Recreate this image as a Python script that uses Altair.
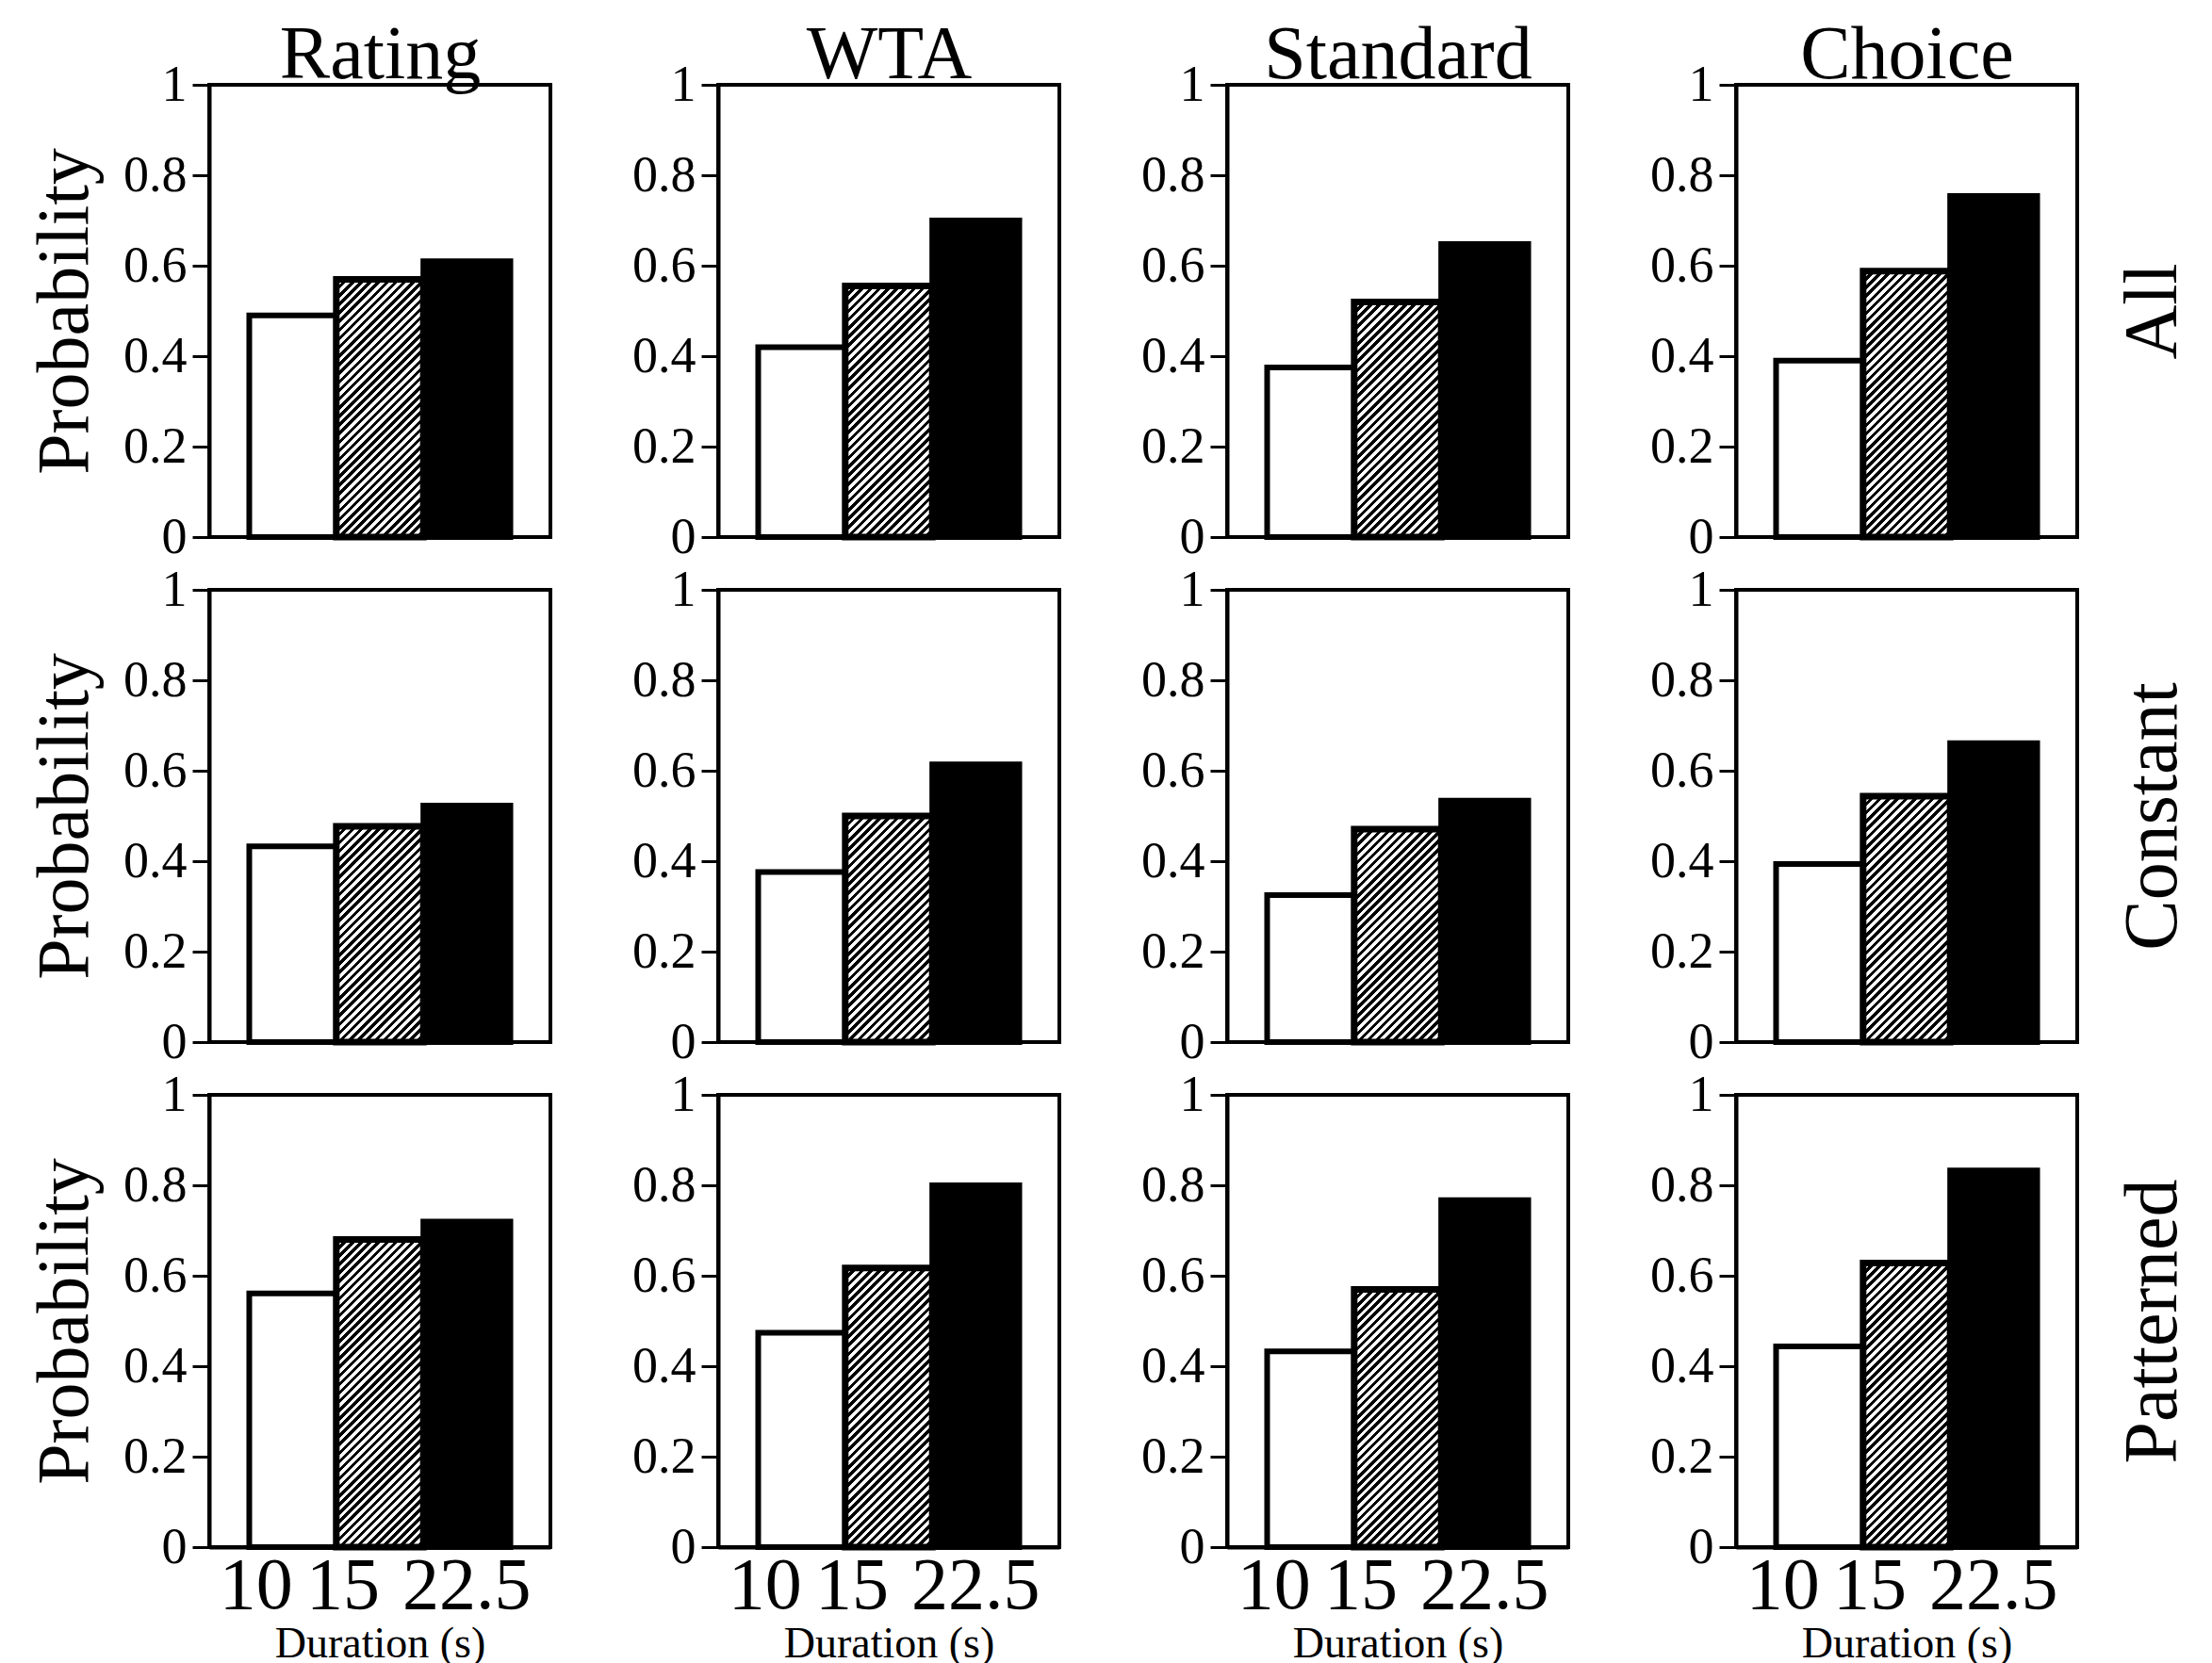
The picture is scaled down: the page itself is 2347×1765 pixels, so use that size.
import math
import altair as alt
import pandas as pd

# ---------------- data ----------------
methods = ["Rating", "WTA", "Standard", "Choice"]
conditions = ["All", "Constant", "Patterned"]
durations = ["10", "15", "22.5"]

# probability per method (Rating, WTA, Standard, Choice) for durations 10, 15, 22.5
prob_all = [[0.49, 0.57, 0.61], [0.42, 0.555, 0.70], [0.375, 0.52, 0.648], [0.39, 0.588, 0.754]]
prob_constant = [[0.433, 0.477, 0.523], [0.376, 0.50, 0.614], [0.325, 0.471, 0.534], [0.394, 0.544, 0.661]]
prob_patterned = [[0.561, 0.68, 0.72], [0.474, 0.617, 0.80], [0.433, 0.57, 0.767], [0.444, 0.628, 0.833]]
rows = [prob_all, prob_constant, prob_patterned]

y_ticks = [0, 0.2, 0.4, 0.6, 0.8, 1]

# ---------------- style ----------------
PW, PH = 362, 480
PAD_OUTER = 0.46
FONT = "Liberation Serif"


def hatch_gradient(value):
    """Diagonal '/' stripes built as a bounding-box linear gradient."""
    w = PW / (3 + 2 * PAD_OUTER)
    h = max(value * PH, 1.0)
    s = (w + h) / (w * w + h * h)
    x2, y2 = w * s, h * s
    period = 6.5
    n = max(int(round((w + h) / math.sqrt(2) / period)), 1)
    frac = 0.5
    stops = []
    for i in range(n):
        t0 = i / n
        t1 = (i + frac) / n
        t2 = (i + 1) / n
        stops += [
            {"offset": t0, "color": "black"},
            {"offset": t1, "color": "black"},
            {"offset": t1, "color": "white"},
            {"offset": t2, "color": "white"},
        ]
    return {"gradient": "linear", "x1": 0, "y1": 0, "x2": x2, "y2": y2, "stops": stops}


def panel(ci, ri):
    vals = rows[ri][ci]
    df = pd.DataFrame({"Duration": durations, "Probability": vals})
    top, bottom, left, right = ri == 0, ri == 2, ci == 0, ci == 3

    x_scale = alt.Scale(domain=durations, paddingInner=0, paddingOuter=PAD_OUTER)
    if bottom:
        x_axis = alt.Axis(
            title="Duration (s)",
            labelAngle=0,
            labelFontSize=78,
            labelPadding=2,
            labelOverlap=False,
            labelAlign={"condition": {"test": "datum.value == '22.5'", "value": "center"}, "value": "right"},
            ticks=False,
            tickSize=0,
            titleFontSize=46,
            titlePadding=0,
        )
    elif top:
        x_axis = alt.Axis(
            orient="top",
            title=methods[ci],
            labels=False,
            ticks=False,
            domain=False,
            titleFontSize=80,
            titlePadding=8,
            titleBaseline="alphabetic",
        )
    else:
        x_axis = None
    x_main = alt.X("Duration:N", sort=durations, scale=x_scale, axis=x_axis)
    x_none = alt.X("Duration:N", sort=durations, scale=x_scale, axis=None)

    y_scale = alt.Scale(domain=[0, 1], nice=False, zero=True)
    y_left = alt.Y(
        "Probability:Q",
        scale=y_scale,
        axis=alt.Axis(
            values=y_ticks,
            format=".1~f",
            title="Probability" if left else None,
            labelFontSize=54,
            labelPadding=6,
            tickSize=18,
            titleFontSize=78,
            titlePadding=22,
        ),
    )
    y_none = alt.Y("Probability:Q", scale=y_scale, axis=None)
    if right:
        y_right = alt.Y(
            "Probability:Q",
            scale=y_scale,
            axis=alt.Axis(
                orient="right",
                title=conditions[ri],
                labels=False,
                ticks=False,
                domain=False,
                titleAngle=270,
                titleBaseline="alphabetic",
                titleFontSize=80,
                titlePadding=104,
            ),
        )
    else:
        y_right = y_none

    base = alt.Chart(df)
    white = base.transform_filter(alt.datum.Duration == "10").mark_bar(
        fill="white", stroke="black", strokeWidth=6
    ).encode(x=x_main, y=y_left)
    hatched = base.transform_filter(alt.datum.Duration == "15").mark_bar(
        fill=hatch_gradient(vals[1]), stroke="black", strokeWidth=7
    ).encode(x=x_none, y=y_none)
    black = base.transform_filter(alt.datum.Duration == "22.5").mark_bar(
        fill="black", stroke="black", strokeWidth=6
    ).encode(x=x_none, y=y_right)

    return (
        alt.layer(white, hatched, black)
        .resolve_axis(x="independent", y="independent")
        .properties(width=PW, height=PH)
    )


panels = [panel(ci, ri) for ri in range(3) for ci in range(4)]

chart = (
    alt.concat(*panels, columns=4, spacing={"row": 56, "column": 178}, bounds="flush")
    .properties(padding={"left": 20, "top": 8, "right": 10, "bottom": 0}, background="white")
    .configure_view(stroke="black", strokeWidth=4)
    .configure_axis(
        domainColor="black", domainWidth=4, tickColor="black", tickWidth=3,
        labelFont=FONT, titleFont=FONT, labelColor="black", titleColor="black",
        titleFontWeight="normal", grid=False,
    )
)

chart.save("out.html", embed_options={"renderer": "svg", "actions": False})
